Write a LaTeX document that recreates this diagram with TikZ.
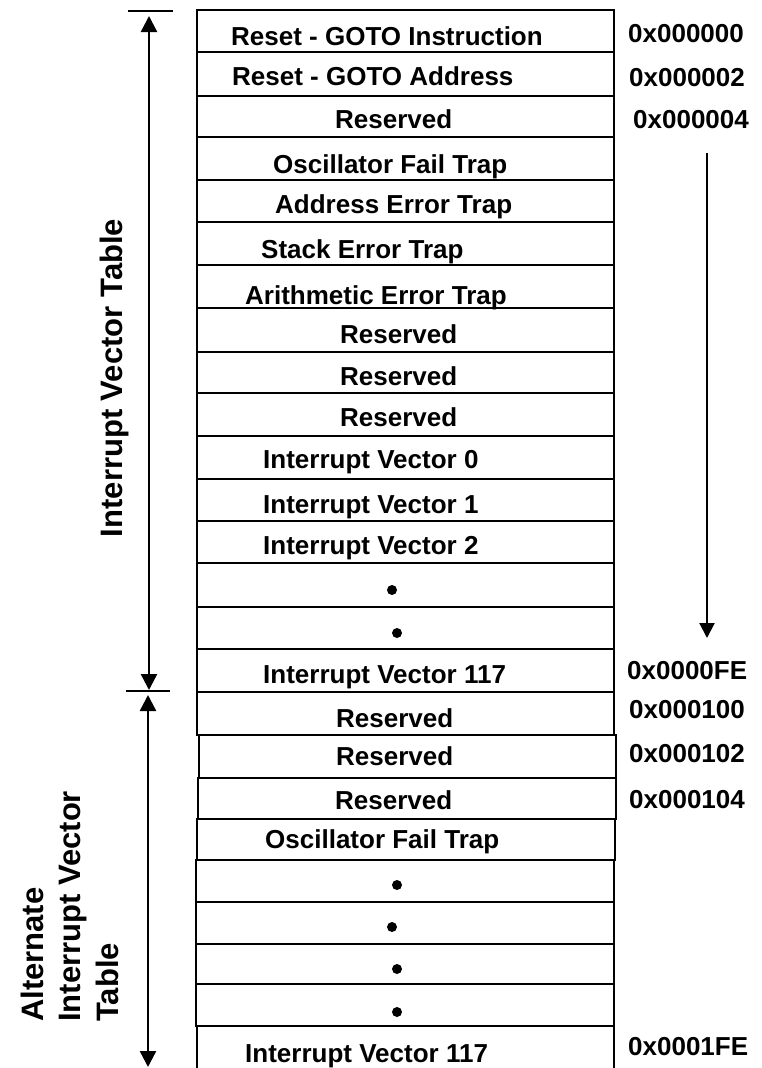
\documentclass[tikz,border=0pt]{standalone}
\usepackage{fontspec}
\setmainfont{Liberation Sans}
\usetikzlibrary{arrows.meta}
\begin{document}
\begin{tikzpicture}[x=1pt,y=-1pt,
  cell/.style={line width=2.8pt},
  lbl/.style={anchor=base west,inner sep=0pt,font=\fontsize{26}{30}\selectfont\bfseries},
  side/.style={inner sep=0pt,rotate=90,font=\fontsize{31}{37}\selectfont\bfseries},
  dotmark/.style={circle,fill=black,inner sep=0pt,minimum size=10pt},
  span/.style={line width=2.4pt,{Triangle[width=16pt,length=16pt]}-{Triangle[width=16pt,length=16pt]}},
  flow/.style={line width=2.2pt,-{Triangle[width=15pt,length=15pt]}},
  bar/.style={line width=2.6pt}]
\fill[white] (0,0) rectangle (761,1068);
\useasboundingbox (0,0) rectangle (761,1068);

% main vector table
\draw[cell] (197,10) rectangle (614,692);
\foreach \y in {52,96,137,180,222,265,308,352,393,436,479,521,563,607,649}
  \draw[cell] (197,\y) -- (614,\y);

% alternate vector table (slightly uneven rows)
\foreach \t/\b/\l/\r in {692/735/197/614, 735/778/199/616, 778/819/198/616,
    819/860/197/615, 860/902/196/614, 902/944/196/614, 944/984/196/614,
    984/1026/196/614, 1026/1080/197/614}
  \draw[cell] (\l,\t) rectangle (\r,\b);

% entries of the main table
\node[lbl] (t1)  at (231,45)  {Reset - GOTO Instruction};
\node[lbl] (t2)  at (232,85)  {Reset - GOTO Address};
\node[lbl] (t3)  at (335,128) {Reserved};
\node[lbl] (t4)  at (273,173) {Oscillator Fail Trap};
\node[lbl] (t5)  at (275,213) {Address Error Trap};
\node[lbl] (t6)  at (261,258) {Stack Error Trap};
\node[lbl] (t7)  at (245,304) {Arithmetic Error Trap};
\node[lbl] (t8)  at (340,343) {Reserved};
\node[lbl] (t9)  at (340,385) {Reserved};
\node[lbl] (t10) at (340,426) {Reserved};
\node[lbl] (t11) at (263,468) {Interrupt Vector 0};
\node[lbl] (t12) at (263,513) {Interrupt Vector 1};
\node[lbl] (t13) at (263,554) {Interrupt Vector 2};
\node[dotmark] (d1) at (392,590) {};
\node[dotmark] (d2) at (397,633) {};
\node[lbl] (t16) at (263,683) {Interrupt Vector 117};

% entries of the alternate table
\node[lbl] (a1) at (336,727)  {Reserved};
\node[lbl] (a2) at (336,765)  {Reserved};
\node[lbl] (a3) at (335,809)  {Reserved};
\node[lbl] (a4) at (265,848)  {Oscillator Fail Trap};
\node[dotmark] (e1) at (397,885)  {};
\node[dotmark] (e2) at (392,927)  {};
\node[dotmark] (e3) at (397,969)  {};
\node[dotmark] (e4) at (397,1012) {};
\node[lbl] (a9) at (245,1062) {Interrupt Vector 117};

% addresses
\node[lbl] (x1) at (628,42)   {0x000000};
\node[lbl] (x2) at (629,86)   {0x000002};
\node[lbl] (x3) at (633,128)  {0x000004};
\node[lbl] (x4) at (627,679)  {0x0000FE};
\node[lbl] (x5) at (629,718)  {0x000100};
\node[lbl] (x6) at (629,762)  {0x000102};
\node[lbl] (x7) at (629,808)  {0x000104};
\node[lbl] (x8) at (628,1055) {0x0001FE};

% side labels
\node[side,anchor=base] (ivt) at (122,378) {Interrupt Vector Table};
\node[side,anchor=base west] (alt1) at (43,1022)  {Alternate};
\node[side,anchor=base west] (alt2) at (80,1022)  {Interrupt Vector};
\node[side,anchor=base west] (alt3) at (118,1022) {Table};

% extent markers
\coordinate (barAl) at (128,11);
\coordinate (barAr) at (173,11);
\coordinate (barBl) at (126,691);
\coordinate (barBr) at (170,691);
\draw[bar] (barAl) -- (barAr);
\draw[bar] (barBl) -- (barBr);

\coordinate (ivtTop) at (149,16);
\coordinate (ivtBot) at (149,690);
\draw[span] (ivtTop) -- (ivtBot);

\coordinate (altTop) at (148,695);
\coordinate (altBot) at (148,1067);
\draw[span] (altTop) -- (altBot);

% address direction
\coordinate (dirTop) at (707,153);
\coordinate (dirBot) at (707,638);
\draw[flow] (dirTop) -- (dirBot);
\end{tikzpicture}
\end{document}
